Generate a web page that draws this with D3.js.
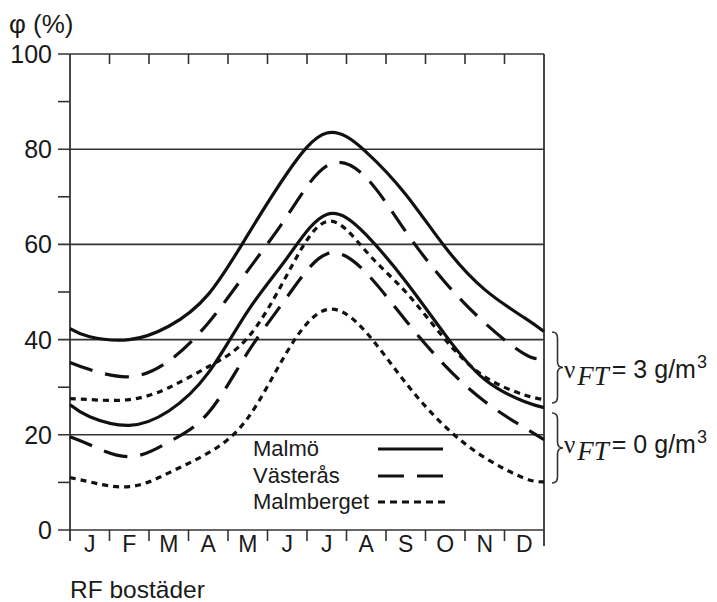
<!DOCTYPE html>
<html>
<head>
<meta charset="utf-8">
<script src="https://cdn.jsdelivr.net/npm/d3@7"></script>
<style>
  html, body { margin: 0; padding: 0; background: #fff; }
  svg { display: block; }
  text { font-family: "Liberation Sans", Arial, sans-serif; fill: #1a1a1a; }
</style>
</head>
<body>
<svg id="chart" width="717" height="602"></svg>
<script>
// ---------- data ----------
const monthLabels = ["J","F","M","A","M","J","J","A","S","O","N","D"];
const yMajorTicks = [0, 20, 40, 60, 80, 100];
const yMinorTicks = [10, 30, 50, 70, 90];
// sample positions in months (0 = start of Jan, 12 = end of Dec, x.5 = mid-month)
const samplePos = [0, 0.5, 1.5, 2.5, 3.5, 4.5, 5.5, 6.5, 7.5, 8.5, 9.5, 10.5, 11.5, 12];
// relative humidity φ (%)
const malmo3      = [42.3, 40.6, 40.0, 42.8, 49.5, 62.0, 75.0, 83.4, 79.4, 70.5, 59.4, 50.5, 44.6, 41.7];
const malmo0      = [26.3, 23.8, 22.0, 25.0, 33.0, 46.0, 57.2, 66.3, 62.0, 52.2, 41.0, 31.6, 27.0, 25.7];
const vasteras3   = [35.2, 33.7, 32.2, 35.5, 43.5, 54.5, 66.0, 76.5, 74.0, 62.7, 52.0, 43.5, 37.0, 36.0];
const vasteras0   = [19.6, 17.9, 15.4, 18.5, 24.6, 37.3, 49.0, 58.0, 54.0, 44.0, 34.5, 27.0, 21.5, 19.0];
const malmberget3 = [27.6, 27.4, 27.4, 29.9, 34.3, 40.4, 53.7, 64.8, 58.5, 50.0, 40.0, 32.2, 28.4, 27.4];
const malmberget0 = [11.0, 10.1,  9.1, 12.0, 16.2, 23.5, 37.5, 46.3, 41.5, 30.9, 21.7, 15.2, 10.9, 10.1];
const seriesNames = ["Malmö", "Västerås", "Malmberget"];
const groupLabels = ["3", "0"];   // ν_FT values in g/m³
const yTitle = "φ (%)";
const footLabel = "RF bostäder";

// ---------- styles ----------
const dashFor = { "Malmö": null, "Västerås": "24,13", "Malmberget": "6,5" };
const legendDash = { "Malmö": null, "Västerås": "26,13", "Malmberget": "7,5" };

const series = [
  { name: "Malmö", values: malmo3 },
  { name: "Malmö", values: malmo0 },
  { name: "Västerås", values: vasteras3 },
  { name: "Västerås", values: vasteras0 },
  { name: "Malmberget", values: malmberget3 },
  { name: "Malmberget", values: malmberget0 }
];

const svg = d3.select("#chart");
const L = 70, R = 544, T = 54, B = 530;
const x = d3.scaleLinear().domain([0, 12]).range([L, R]);
const y = d3.scaleLinear().domain([0, 100]).range([B, T]);
const gridInk = "#333";

// horizontal gridlines (major) extending left as ticks
svg.append("g").selectAll("line").data(yMajorTicks).join("line")
  .attr("x1", L - 12).attr("x2", R)
  .attr("y1", d => y(d)).attr("y2", d => y(d))
  .attr("stroke", gridInk).attr("stroke-width", 1.6);
// minor ticks on left
svg.append("g").selectAll("line").data(yMinorTicks).join("line")
  .attr("x1", L - 12).attr("x2", L)
  .attr("y1", d => y(d)).attr("y2", d => y(d))
  .attr("stroke", gridInk).attr("stroke-width", 1.6);
// left axis and right border
svg.append("line").attr("x1", L).attr("x2", L).attr("y1", T).attr("y2", B + 11)
  .attr("stroke", gridInk).attr("stroke-width", 1.8);
svg.append("line").attr("x1", R).attr("x2", R).attr("y1", T).attr("y2", B + 16)
  .attr("stroke", gridInk).attr("stroke-width", 1.8);
// month boundary ticks (bottom and top)
const bounds = d3.range(0, 13);
svg.append("g").selectAll("line").data(bounds.slice(1, 12)).join("line")
  .attr("x1", d => x(d)).attr("x2", d => x(d))
  .attr("y1", B).attr("y2", B + 11)
  .attr("stroke", gridInk).attr("stroke-width", 1.6);
svg.append("g").selectAll("line").data(bounds.slice(1, 12)).join("line")
  .attr("x1", d => x(d)).attr("x2", d => x(d))
  .attr("y1", T).attr("y2", T + 10)
  .attr("stroke", gridInk).attr("stroke-width", 1.6);

// y tick labels
svg.append("g").selectAll("text").data(yMajorTicks).join("text")
  .attr("x", 52).attr("y", d => y(d))
  .attr("dy", "0.36em")
  .attr("text-anchor", "end")
  .attr("font-size", 25)
  .text(d => d);
// month labels
svg.append("g").selectAll("text").data(monthLabels).join("text")
  .attr("x", (d, i) => x(i + 0.5)).attr("y", B + 22)
  .attr("text-anchor", "middle")
  .attr("font-size", 23)
  .text(d => d);
// axis title and footer
svg.append("text").attr("x", 9).attr("y", 33).attr("font-size", 26).text(yTitle);
svg.append("text").attr("x", 70).attr("y", 598).attr("font-size", 24.5).text(footLabel);

// curves
const line = d3.line()
  .x(d => x(d[0])).y(d => y(d[1]))
  .curve(d3.curveNatural);
svg.append("g").selectAll("path").data(series).join("path")
  .attr("d", s => line(samplePos.map((p, i) => [p, s.values[i]])))
  .attr("fill", "none")
  .attr("stroke", "#111")
  .attr("stroke-width", 3.2)
  .attr("stroke-dasharray", s => dashFor[s.name]);

// legend
const legY = [456, 483, 509];
const lg = svg.append("g");
seriesNames.forEach((n, i) => {
  lg.append("text").attr("x", 253).attr("y", legY[i]).attr("font-size", 22).text(n);
  lg.append("line")
    .attr("x1", 378).attr("x2", n === "Malmberget" ? 449 : 443)
    .attr("y1", legY[i] - 7).attr("y2", legY[i] - 7)
    .attr("stroke", "#111").attr("stroke-width", 3.2)
    .attr("stroke-dasharray", legendDash[n]);
});

// braces with ν_FT labels
function brace(x0, y0, y1, w) {
  const ym = (y0 + y1) / 2, xm = x0 + w / 2, r = 6;
  return `M${x0},${y0} Q${xm},${y0} ${xm},${y0 + r} L${xm},${ym - r} Q${xm},${ym} ${x0 + w},${ym}` +
         ` Q${xm},${ym} ${xm},${ym + r} L${xm},${y1 - r} Q${xm},${y1} ${x0},${y1}`;
}
const braceRanges = [[332, 403], [413, 483]];
const labelBase = [378, 453];
braceRanges.forEach((br, i) => {
  svg.append("path").attr("d", brace(552, br[0], br[1], 11))
    .attr("fill", "none").attr("stroke", "#333").attr("stroke-width", 1.6);
  const t = svg.append("text").attr("x", 564).attr("y", labelBase[i]).attr("font-size", 25);
  t.append("tspan").attr("font-family", "Liberation Serif, serif").text("ν");
  t.append("tspan").attr("dy", 7).attr("dx", 2).attr("font-family", "Liberation Serif, serif")
    .attr("font-style", "italic").attr("font-size", 27).text("FT");
  t.append("tspan").attr("dy", -7).attr("dx", 3).text("= " + groupLabels[i] + " g/m");
  t.append("tspan").attr("dy", -10).attr("dx", 1).attr("font-size", 18).text("3");
});
</script>
</body>
</html>
